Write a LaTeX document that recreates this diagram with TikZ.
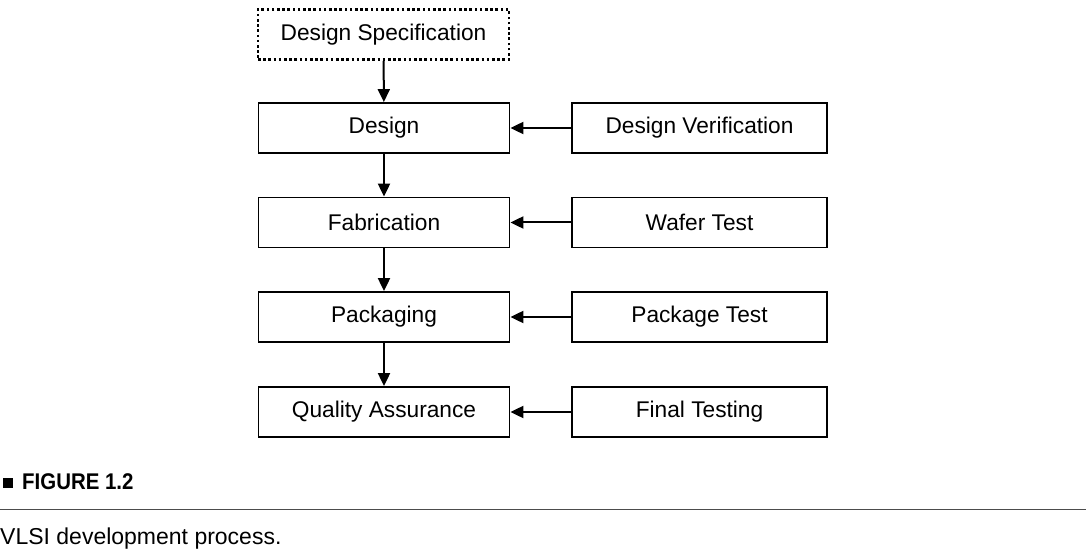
\documentclass[tikz,border=0pt]{standalone}
\usepackage{fontspec}
\setmainfont{Liberation Sans}
\usetikzlibrary{arrows.meta}
\begin{document}
\begin{tikzpicture}[x=1pt,y=-1pt,
  box/.style={draw,line width=1.8pt,minimum width=251pt,minimum height=50pt,inner sep=0pt,font=\fontsize{22.7}{26}\selectfont},
  rbox/.style={draw,line width=1.3pt,minimum width=255pt,minimum height=50pt,inner sep=0pt,font=\fontsize{22.7}{26}\selectfont},
  arr/.style={line width=2pt,-{Triangle[length=13pt,width=12pt]}}]
\useasboundingbox (0,0) rectangle (1086,553);
\node[box,line width=2.8pt,dash pattern=on 2.6pt off 2.6pt] (spec) at (383.5,34.5) {Design Specification};
\node[box] (design) at (384,128) {Design};
\node[box] (fab) at (384,222.5) {Fabrication};
\node[box] (pack) at (384,317) {Packaging};
\node[box] (qa) at (384,412) {Quality Assurance};
\node[rbox] (dv) at (699.5,128) {Design Verification};
\node[rbox] (wt) at (699.5,222.5) {Wafer Test};
\node[rbox] (pt) at (699.5,317) {Package Test};
\node[rbox] (ft) at (699.5,412) {Final Testing};
\draw[arr] (spec) -- (design);
\draw[arr] (design) -- (fab);
\draw[arr] (fab) -- (pack);
\draw[arr] (pack) -- (qa);
\draw[arr] (dv) -- (design);
\draw[arr] (wt) -- (fab);
\draw[arr] (pt) -- (pack);
\draw[arr] (ft) -- (qa);
\node[fill,minimum size=10pt,inner sep=0pt] (bullet) at (7.5,482.5) {};
\node[anchor=west,inner sep=0pt,font=\fontsize{22.7}{26}\selectfont\bfseries] (fig) at (22,482) {\scalebox{0.9}[1]{FIGURE 1.2}};
\coordinate (l1) at (0,509);
\coordinate (l2) at (1086,509);
\draw[line width=1pt,black!70] (l1) -- (l2);
\node[anchor=base west,inner sep=0pt,font=\fontsize{23}{26}\selectfont] (cap) at (0,544) {VLSI development process.};
\end{tikzpicture}
\end{document}
